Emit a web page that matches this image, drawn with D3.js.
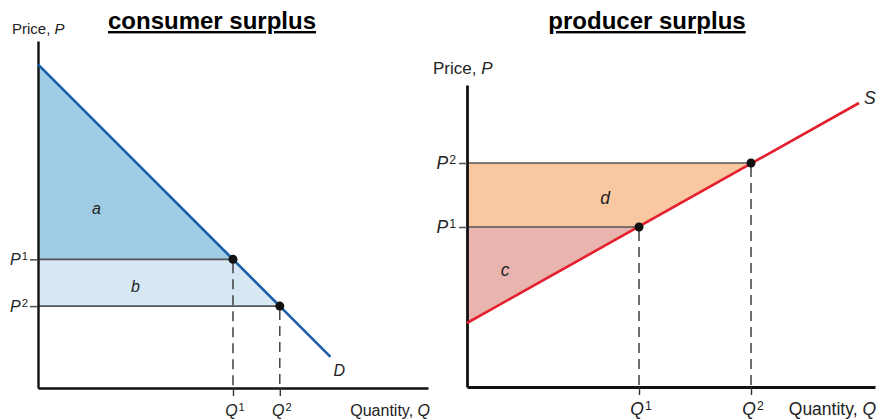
<!DOCTYPE html>
<html><head><meta charset="utf-8">
<script src="https://cdn.jsdelivr.net/npm/d3@7"></script>
<style>
html,body{margin:0;padding:0;background:#fff;}
svg{display:block;font-family:"Liberation Sans",Arial,Helvetica,sans-serif;}
</style></head>
<body><svg id="c" width="877" height="419"></svg>
<script>
// ---- data (abstract units) ----
const titles = ["consumer surplus", "producer surplus"];
const axisLabels = ["Price, ", "Quantity, "];
// consumer panel
const demandLine = [[0, 83], [75, 8]];          // [Q, P]
const consumerQ = [50, 62];                      // Q1, Q2
const consumerP = [33, 21];                      // P1, P2
const consumerAreaLabels = ["a", "b"];
const consumerAreaPos = [[15, 46], [25, 26]];
// producer panel
const supplyLine = [[0, 16], [98, 71]];
const producerQ = [43, 71];
const producerP = [40, 56];
const producerAreaLabels = ["c", "d"];
const producerAreaPos = [[9.5, 29], [34.5, 47]];
const tickNames = ["1", "2"];

const svg = d3.select("#c");

function sup(sel, base, s, fs) {
  sel.append("tspan").text(base).attr("font-style", "italic");
  sel.append("tspan").text(s).attr("font-size", fs * 0.7).attr("dx", 1).attr("dy", -fs * 0.3);
}

function panel(o) {
  const g = svg.append("g");
  const x = d3.scaleLinear().domain(o.xd).range(o.xr);
  const y = d3.scaleLinear().domain(o.yd).range(o.yr);
  const [Q1, Q2] = o.Q, [P1, P2] = o.P;
  const x0 = x(0), y0 = y(0);

  // areas
  const upper = [[0, o.line[0][1]], [0, P1], [Q1, P1]];
  const lower = [[0, P1], [Q1, P1], [Q2, P2], [0, P2]];
  const pl = d3.line().x(d => x(d[0])).y(d => y(d[1]));
  g.append("path").attr("d", pl(upper) + "Z").attr("fill", o.c1);
  g.append("path").attr("d", pl(lower) + "Z").attr("fill", o.c2);

  // horizontal price lines
  o.P.forEach((p, i) => {
    g.append("line").attr("x1", x0).attr("x2", x(o.Q[i])).attr("y1", y(p)).attr("y2", y(p))
      .attr("stroke", "#555").attr("stroke-width", 1.6);
  });
  // dashed quantity lines
  o.Q.forEach((q, i) => {
    g.append("line").attr("x1", x(q)).attr("x2", x(q)).attr("y1", y(o.P[i]) + 4).attr("y2", y0)
      .attr("stroke", "#333").attr("stroke-width", 1.4).attr("stroke-dasharray", "10,6");
  });

  // axes
  const ax = d3.axisBottom(x).tickValues(o.Q).tickSize(8).tickSizeOuter(0).tickFormat("");
  const gx = g.append("g").attr("transform", `translate(0,${y0})`).call(ax);
  gx.select(".domain").attr("stroke", "#111").attr("stroke-width", o.aw);
  gx.selectAll(".tick line").attr("stroke", "#333").attr("stroke-width", 1.4);
  const ay = d3.axisLeft(y).tickValues(o.P).tickSize(8).tickSizeOuter(0).tickFormat("");
  const gy = g.append("g").attr("transform", `translate(${x0},0)`).call(ay);
  gy.select(".domain").attr("stroke", "#111").attr("stroke-width", o.aw);
  gy.selectAll(".tick line").attr("stroke", "#555").attr("stroke-width", 1.6);

  // curve
  g.append("path").attr("d", pl(o.line)).attr("fill", "none").attr("stroke", o.lc).attr("stroke-width", 2.6);

  // points
  o.Q.forEach((q, i) => {
    g.append("circle").attr("cx", x(q)).attr("cy", y(o.P[i])).attr("r", 4.5).attr("fill", "#111");
  });

  // tick labels
  o.P.forEach((p, i) => {
    const t = g.append("text").attr("x", x0 - o.plOff).attr("y", y(p) + o.fs * 0.36)
      .attr("text-anchor", "end").attr("font-size", o.fs).attr("fill", "#222");
    sup(t, "P", tickNames[i], o.fs);
  });
  o.Q.forEach((q, i) => {
    const t = g.append("text").attr("x", x(q) + 2).attr("y", o.qy)
      .attr("text-anchor", "middle").attr("font-size", o.fs).attr("fill", "#222");
    sup(t, "Q", tickNames[i], o.fs);
  });

  // area labels
  o.al.forEach((s, i) => {
    g.append("text").attr("x", x(o.ap[i][0])).attr("y", y(o.ap[i][1]) + 5)
      .attr("text-anchor", "middle").attr("font-style", "italic").attr("font-size", o.fs)
      .attr("fill", "#222").text(s);
  });

  // curve label
  const last = o.line[o.line.length - 1];
  g.append("text").attr("x", x(last[0]) + o.cl[0]).attr("y", y(last[1]) + o.cl[1])
    .attr("font-style", "italic").attr("font-size", o.fs).attr("fill", "#222").text(o.cname);

  // axis titles
  const pt = g.append("text").attr("x", o.ptx).attr("y", o.pty).attr("font-size", o.pfs).attr("fill", "#222");
  pt.append("tspan").text(axisLabels[0]);
  pt.append("tspan").text("P").attr("font-style", "italic");
  const qt = g.append("text").attr("x", o.qtx).attr("y", o.qy).attr("text-anchor", "end")
    .attr("font-size", o.fs).attr("fill", "#222");
  qt.append("tspan").text(axisLabels[1]);
  qt.append("tspan").text("Q").attr("font-style", "italic");

  // title
  g.append("text").attr("x", o.tx).attr("y", 29).attr("text-anchor", "middle")
    .attr("font-weight", "bold").attr("font-size", 24).attr("text-decoration", "underline")
    .attr("fill", "#000").text(o.title);
}

panel({
  xd: [0, 100], xr: [38, 428], yd: [0, 89], yr: [388, 41],
  line: demandLine, Q: consumerQ, P: consumerP,
  c1: "#9fcbe4", c2: "#d5e8f3", lc: "#1c5ea8", aw: 2.4,
  al: consumerAreaLabels, ap: consumerAreaPos, cname: "D", cl: [3, 19],
  fs: 16, pfs: 15, plOff: 10, qy: 416, ptx: 12, pty: 34, qtx: 430, tx: 212, title: titles[0]
});
panel({
  xd: [0, 102], xr: [467, 875], yd: [0, 75.5], yr: [387, 85],
  line: supplyLine, Q: producerQ, P: producerP,
  c1: "#e9b4ad", c2: "#f9c8a1", lc: "#e5202e", aw: 2.8,
  al: producerAreaLabels, ap: producerAreaPos, cname: "S", cl: [5, 1],
  fs: 17.5, pfs: 17, plOff: 11, qy: 415, ptx: 433, pty: 74, qtx: 876, tx: 647, title: titles[1]
});
</script></body></html>
